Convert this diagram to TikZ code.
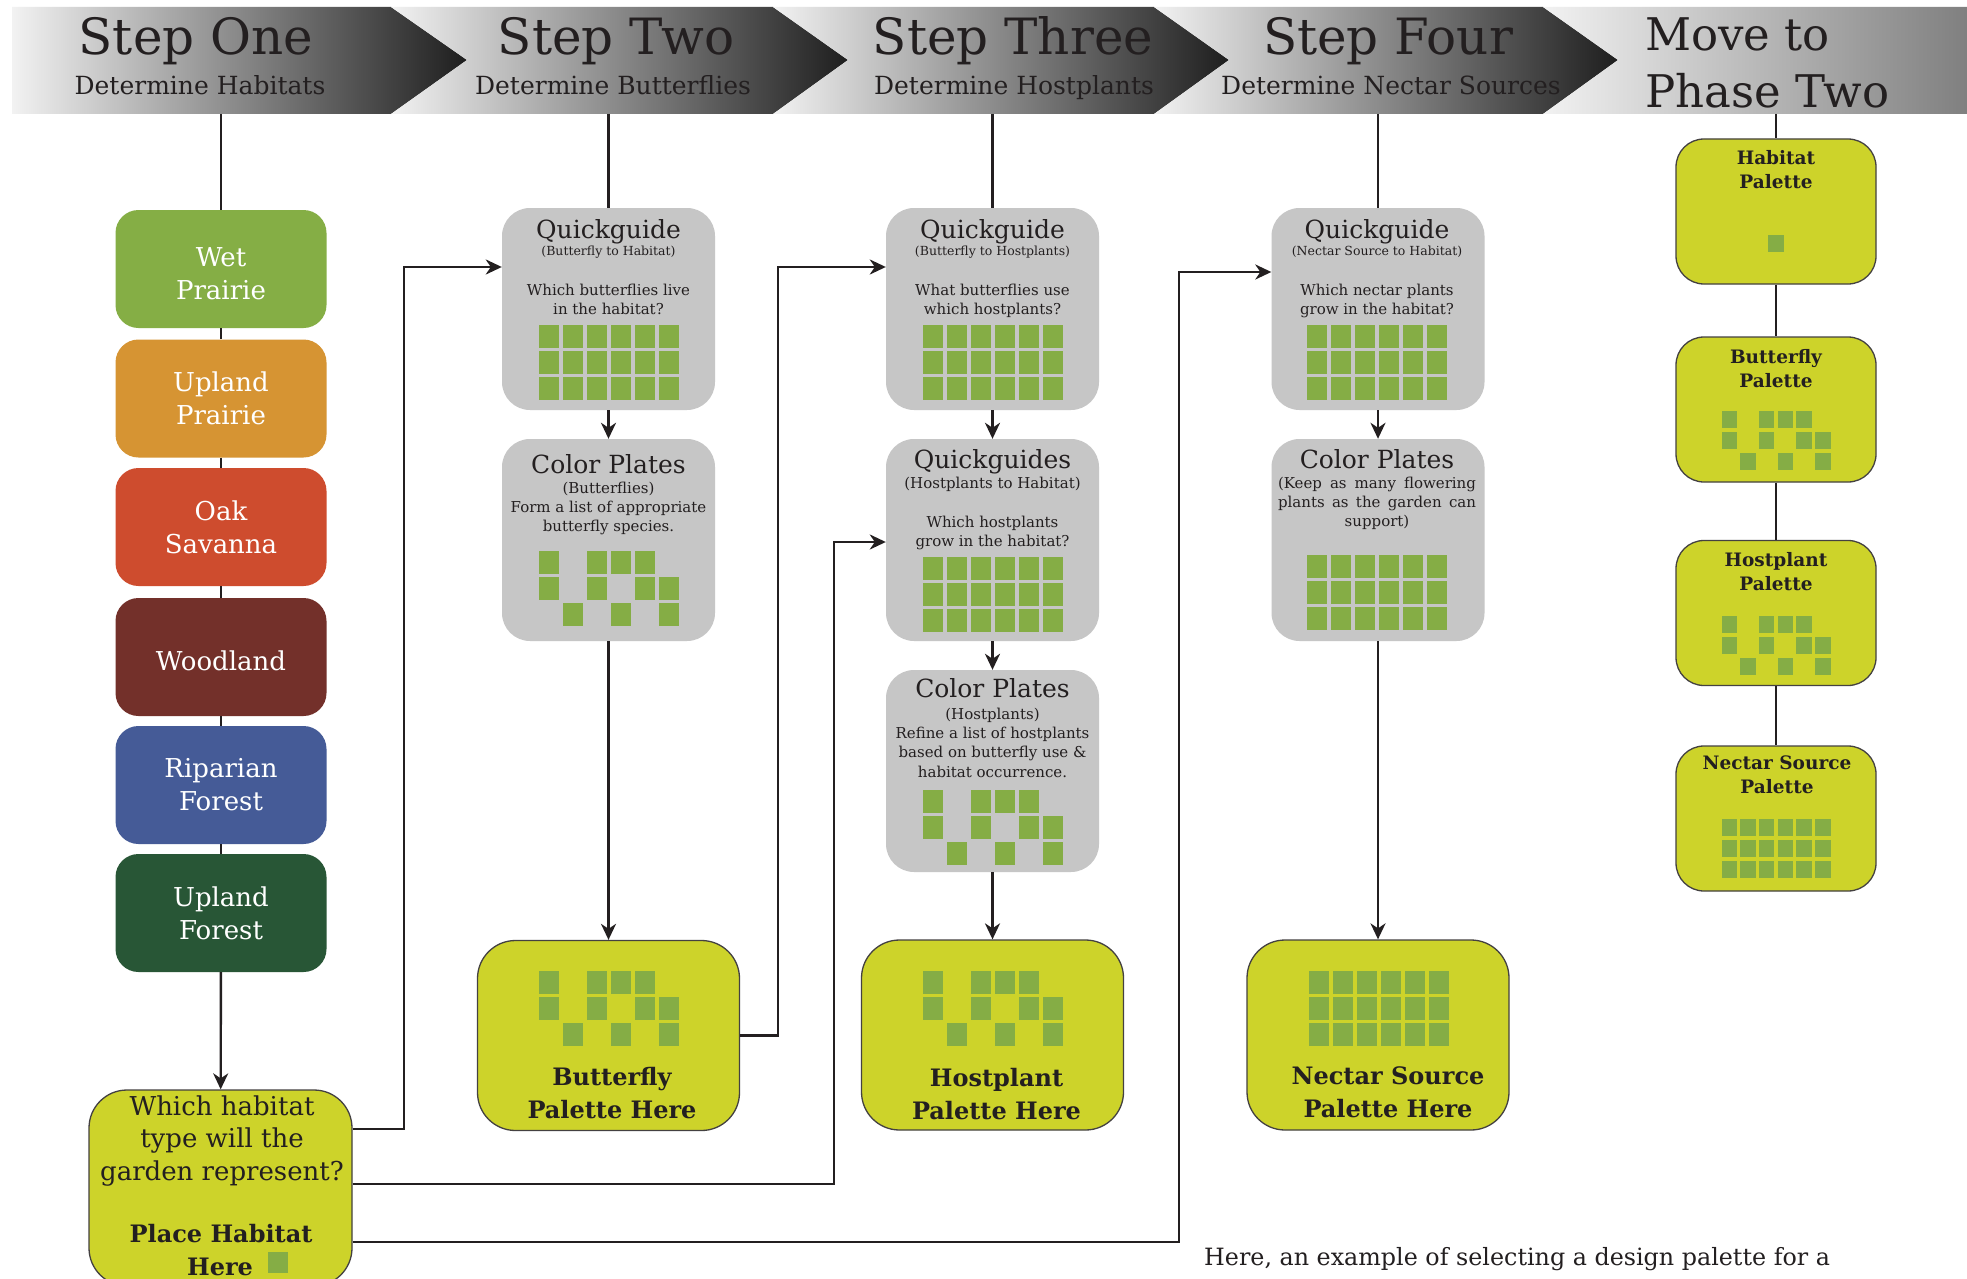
\documentclass[tikz,border=0pt]{standalone}
\usepackage{fontspec}
\setmainfont{DejaVu Serif}
\usetikzlibrary{arrows.meta}

\definecolor{ink}{HTML}{231F20}
\definecolor{boxgray}{HTML}{C6C6C6}
\definecolor{leaf}{HTML}{85AD45}
\definecolor{lime}{HTML}{CDD32A}
\definecolor{banlight}{HTML}{F2F2F2}
\definecolor{bandark}{HTML}{1E1E1E}
\definecolor{wetgreen}{HTML}{85AE45}
\definecolor{prairieorange}{HTML}{D69433}
\definecolor{savannared}{HTML}{CE4C2E}
\definecolor{woodbrown}{HTML}{73302A}
\definecolor{riparianblue}{HTML}{455B97}
\definecolor{forestgreen}{HTML}{285636}

% green squares: centre x, top y
\newcommand{\leafgrid}[2]{%
  \foreach \i in {0,...,5}
    \foreach \j in {0,1,2}
      \fill[leaf] ({#1-70+24*\i},{#2+26*\j}) rectangle ++(20,22.5);}
\newcommand{\leafpattern}[2]{%
  \foreach \i/\j in {0/0,2/0,3/0,4/0,0/1,2/1,4/1,5/1,1/2,3/2,5/2}
    \fill[leaf] ({#1-70+24*\i},{#2+26*\j}) rectangle ++(20,22.5);}
\newcommand{\smallgrid}[2]{%
  \foreach \i in {0,...,5}
    \foreach \j in {0,1,2}
      \fill[leaf] ({#1-54.5+18.7*\i},{#2+21*\j}) rectangle ++(15.5,17);}
\newcommand{\smallpattern}[2]{%
  \foreach \i/\j in {0/0,2/0,3/0,4/0,0/1,2/1,4/1,5/1,1/2,3/2,5/2}
    \fill[leaf] ({#1-54.5+18.7*\i},{#2+21*\j}) rectangle ++(15.5,17);}

\tikzset{
  habitat/.style={rounded corners=23pt, minimum width=211pt, minimum height=118pt},
  habtext/.style={text=white, align=center, font=\fontsize{26}{33}\selectfont},
  guide/.style={fill=boxgray, rounded corners=28pt, minimum width=213pt, minimum height=202pt},
  palette/.style={fill=lime, draw=ink!85, line width=1.3pt, rounded corners=38pt,
    minimum width=262pt, minimum height=190pt},
  phase/.style={fill=lime, draw=ink!85, line width=1.3pt, rounded corners=28pt,
    minimum width=200pt, minimum height=145pt},
  steptitle/.style={anchor=base, text=ink, font=\fontsize{50}{50}\selectfont},
  stepsub/.style={anchor=base, text=ink, font=\fontsize{25}{25}\selectfont},
  boxtitle/.style={anchor=base, text=ink, font=\fontsize{25}{25}\selectfont},
  boxsub/.style={anchor=base, text=ink, font=\fontsize{12.5}{13}\selectfont},
  boxnote/.style={anchor=north, inner sep=0pt, text=ink, align=center,
    font=\fontsize{15}{19.3}\selectfont},
  boldlabel/.style={anchor=north, inner sep=0pt, text=ink, align=center,
    font=\bfseries\fontsize{24}{33}\selectfont},
  phaselabel/.style={anchor=north, inner sep=0pt, text=ink, align=center,
    font=\bfseries\fontsize{18.5}{24}\selectfont},
  link/.style={draw=ink, line width=2.4pt},
  flow/.style={link, -{Stealth[length=16pt, width=15pt, inset=5pt]}},
}

\begin{document}
\begin{tikzpicture}[x=1pt,y=-1pt]
\fill[white] (0,0) rectangle (1967,1279);
\useasboundingbox (0,0) rectangle (1967,1279);

% banner
\shade[left color=banlight, right color=bandark] (12,7) -- (391,7) -- (467,60) -- (391,114) -- (12,114) -- cycle;
\shade[left color=banlight, right color=bandark] (391,7) -- (773,7) -- (848,60) -- (773,114) -- (391,114) -- (467,60) -- cycle;
\shade[left color=banlight, right color=bandark] (773,7) -- (1154,7) -- (1229,60) -- (1154,114) -- (773,114) -- (848,60) -- cycle;
\shade[left color=banlight, right color=bandark] (1154,7) -- (1543,7) -- (1618,60) -- (1543,114) -- (1154,114) -- (1229,60) -- cycle;
\shade[left color=banlight, right color=black!50] (1543,7) -- (1967,7) -- (1967,114) -- (1543,114) -- (1618,60) -- cycle;

\node[steptitle] (s1) at (196,55) {Step One};
\node[stepsub] (d1) at (200,95) {Determine Habitats};
\node[steptitle] (s2) at (616,55) {Step Two};
\node[stepsub] (d2) at (613,95) {Determine Butterflies};
\node[steptitle] (s3) at (1013,55) {Step Three};
\node[stepsub] (d3) at (1014,95) {Determine Hostplants};
\node[steptitle] (s4) at (1388,55) {Step Four};
\node[stepsub] (d4) at (1391,95) {Determine Nectar Sources};
\node[steptitle, anchor=base west, inner sep=0pt, font=\fontsize{45}{45}\selectfont] (s5) at (1645,51) {Move to};
\node[steptitle, anchor=base west, inner sep=0pt, font=\fontsize{45}{45}\selectfont] (s5b) at (1645,108) {Phase Two};

\coordinate (b1) at (221,114);
\coordinate (b2) at (608.5,114);
\coordinate (b3) at (992.5,114);
\coordinate (b4) at (1378,114);
\coordinate (b5) at (1776,114);

% step one
\node[habitat, fill=wetgreen] (wet) at (221,269) {};
\node[habtext] (wett) at (221,274) {Wet\\Prairie};
\node[habitat, fill=prairieorange] (uprairie) at (221,398.5) {};
\node[habtext] (uprairiet) at (221,398.5) {Upland\\Prairie};
\node[habitat, fill=savannared] (oak) at (221,527) {};
\node[habtext] (oakt) at (221,527) {Oak\\Savanna};
\node[habitat, fill=woodbrown] (woodland) at (221,657) {};
\node[habtext] (woodlandt) at (221,661) {Woodland};
\node[habitat, fill=riparianblue] (riparian) at (221,785) {};
\node[habtext] (ripariant) at (221,785) {Riparian\\Forest};
\node[habitat, fill=forestgreen] (uforest) at (221,913) {};
\node[habtext] (uforestt) at (221,913) {Upland\\Forest};
\node[palette, minimum width=263pt, minimum height=196pt] (question) at (220.5,1188) {};
\node[boldlabel, font=\fontsize{26}{32.5}\selectfont] (qtext) at (222,1095.5) {Which habitat\\type will the\\garden represent?};
\node[boldlabel, anchor=base] (qplace) at (221,1242) {Place Habitat};
\node[boldlabel, anchor=base] (qhere) at (220,1275) {Here};
\fill[leaf] (268,1252) rectangle ++(20,21);

\draw[link] (b1) -- (wet);
\foreach \a/\b in {wet/uprairie, uprairie/oak, oak/woodland, woodland/riparian, riparian/uforest}
  \draw[link] (\a) -- (\b);
\draw[flow] (uforest) -- (question);

% step two
\node[guide] (guide1) at (608.5,309) {};
\node[boxtitle] (g1t) at (608.5,238) {Quickguide};
\node[boxsub] (g1s) at (608.5,255) {(Butterfly to Habitat)};
\node[boxnote] (g1n) at (608.5,283.6) {Which butterflies live\\in the habitat?};
\leafgrid{608.5}{325}
\node[guide] (plates1) at (608.5,540) {};
\node[boxtitle] (p1t) at (608.5,473) {Color Plates};
\node[boxnote] (p1n) at (608.5,481.6) {(Butterflies)\\Form a list of appropriate\\butterfly species.};
\leafpattern{608.5}{551}
\node[palette] (bpal) at (608.5,1035.5) {};
\leafpattern{609}{971}
\node[boldlabel] (bpalt) at (612,1066.8) {Butterfly\\Palette Here};

\draw[link] (b2) -- (guide1);
\draw[flow] (guide1) -- (plates1);
\draw[flow] (plates1) -- (bpal);

% step three
\node[guide] (guide2) at (992.5,309) {};
\node[boxtitle] (g2t) at (992.5,238) {Quickguide};
\node[boxsub] (g2s) at (992.5,255) {(Butterfly to Hostplants)};
\node[boxnote] (g2n) at (992.5,283.6) {What butterflies use\\which hostplants?};
\leafgrid{992.5}{325}
\node[guide] (hguide) at (992.5,540) {};
\node[boxtitle] (hgt) at (992.5,468.5) {Quickguides};
\node[boxnote, anchor=base] (hgs) at (992.5,488) {(Hostplants to Habitat)};
\node[boxnote] (hgn) at (992.5,516) {Which hostplants\\grow in the habitat?};
\leafgrid{992.5}{557}
\node[guide] (plates2) at (992.5,771) {};
\node[boxtitle] (p2t) at (992.5,697.5) {Color Plates};
\node[boxnote] (p2n) at (992.5,707.6) {(Hostplants)\\Refine a list of hostplants\\based on butterfly use \&\\habitat occurrence.};
\leafpattern{992.5}{790}
\node[palette] (hpal) at (992.5,1035) {};
\leafpattern{993}{971}
\node[boldlabel] (hpalt) at (996.5,1067.8) {Hostplant\\Palette Here};

\draw[link] (b3) -- (guide2);
\draw[flow] (guide2) -- (hguide);
\draw[flow] (hguide) -- (plates2);
\draw[flow] (plates2) -- (hpal);

% step four
\node[guide] (guide4) at (1378,309) {};
\node[boxtitle] (g4t) at (1377,238) {Quickguide};
\node[boxsub] (g4s) at (1377,255) {(Nectar Source to Habitat)};
\node[boxnote] (g4n) at (1377,283.6) {Which nectar plants\\grow in the habitat?};
\leafgrid{1377}{325}
\node[guide] (plates3) at (1378,540) {};
\node[boxtitle] (p3t) at (1377,468) {Color Plates};
\node[boxnote] (p3n) at (1377,476.6) {\makebox[198pt][s]{(Keep as many flowering}\\\makebox[198pt][s]{plants as the garden can}\\support)};
\leafgrid{1377}{555}
\node[palette] (npal) at (1378,1035) {};
\leafgrid{1379}{971}
\node[boldlabel] (npalt) at (1388,1066.8) {Nectar Source\\Palette Here};

\draw[link] (b4) -- (guide4);
\draw[flow] (guide4) -- (plates3);
\draw[flow] (plates3) -- (npal);

% move to phase two
\node[phase] (habpal) at (1776,211.5) {};
\node[phaselabel] (habpalt) at (1776,150) {Habitat\\Palette};
\fill[leaf] (1768,235) rectangle ++(15.5,17);
\node[phase] (butpal) at (1776,409.5) {};
\node[phaselabel] (butpalt) at (1776,349) {Butterfly\\Palette};
\smallpattern{1776}{411}
\node[phase] (hostpal) at (1776,613) {};
\node[phaselabel] (hostpalt) at (1776,552) {Hostplant\\Palette};
\smallpattern{1776}{616}
\node[phase] (nectpal) at (1776,818.5) {};
\node[phaselabel] (nectpalt) at (1777,756) {Nectar Source\\Palette};
\smallgrid{1776}{819}

\draw[link] (b5) -- (habpal);
\draw[link] (habpal) -- (butpal);
\draw[link] (butpal) -- (hostpal);
\draw[link] (hostpal) -- (nectpal);

% habitat choice feeds every quickguide
\draw[flow] ([yshift=59pt]question.east) -| (404,267) -- ([yshift=42pt]guide1.west);
\draw[flow] (bpal.east) -| (778,267) -- ([yshift=42pt]guide2.west);
\draw[flow] ([yshift=4pt]question.east) -| (834,542) -- ([yshift=-2pt]hguide.west);
\draw[flow] ([yshift=-54pt]question.east) -| (1179,272) -- ([yshift=37pt]guide4.west);

\node[anchor=base west, inner sep=0pt, text=ink, font=\fontsize{23.8}{24}\selectfont] (caption) at (1204,1265) {Here, an example of selecting a design palette for a};
\end{tikzpicture}
\end{document}
